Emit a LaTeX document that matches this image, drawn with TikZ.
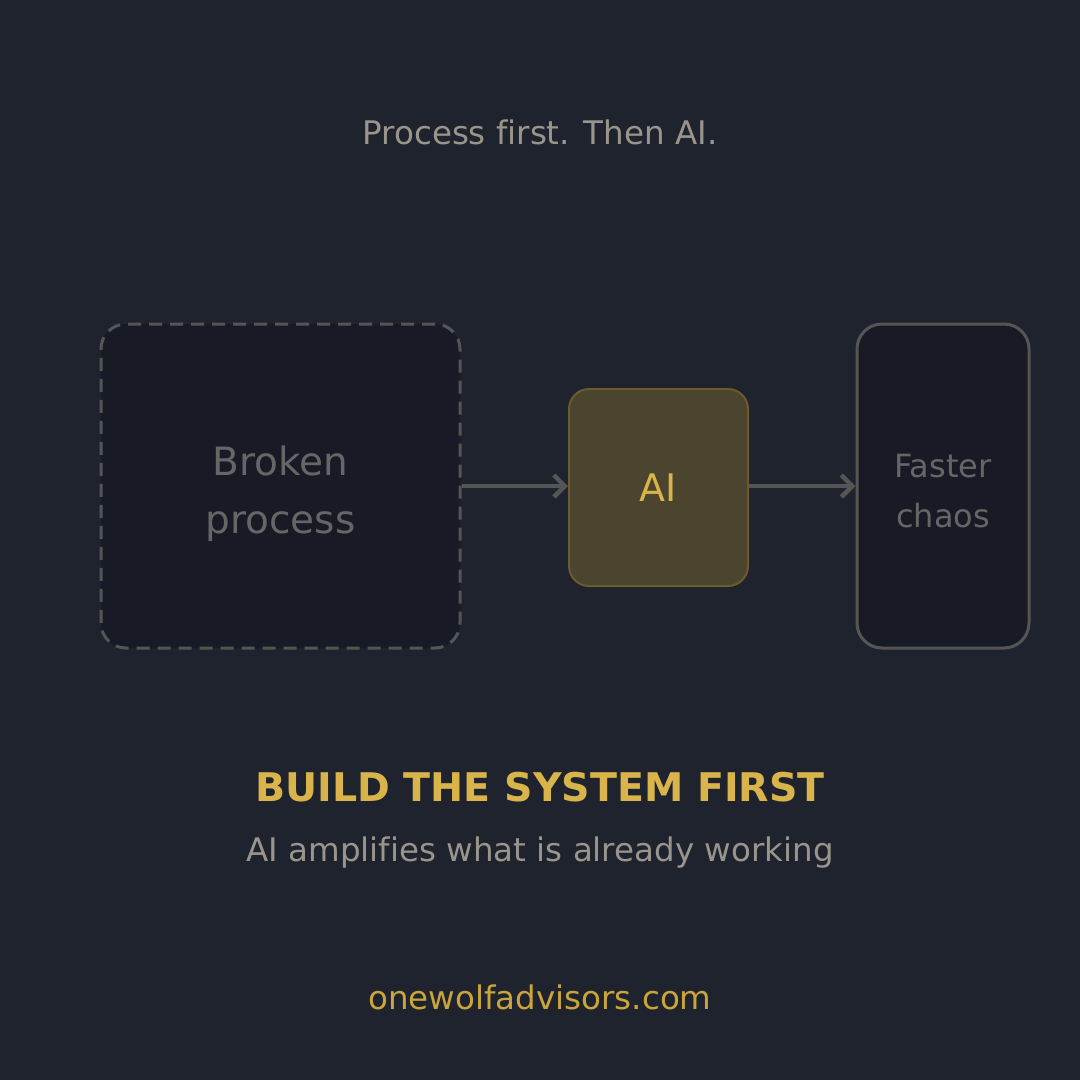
\documentclass[tikz,border=0pt]{standalone}
\usepackage{fontspec}
\setmainfont[Ligatures={NoCommon}]{DejaVu Sans}
\usetikzlibrary{arrows.meta}
\definecolor{bg}{HTML}{1F232E}
\definecolor{boxfill}{HTML}{181B25}
\definecolor{edge}{HTML}{555555}
\definecolor{aifill}{HTML}{4B4530}
\definecolor{aiedge}{HTML}{6B5A30}
\definecolor{gold}{HTML}{D9B44A}
\definecolor{url}{HTML}{C9A53A}
\definecolor{mute}{HTML}{9A958C}
\definecolor{dim}{HTML}{666666}
\tikzset{
  box/.style={draw=edge,fill=boxfill,line width=3pt,rounded corners=25pt,inner sep=0pt},
  lbl/.style={align=center,text=dim,inner sep=0pt},
  aibox/.style={draw=aiedge,fill=aifill,line width=2pt,rounded corners=20pt,text=gold,inner sep=0pt},
  conn/.style={draw=edge,line width=4.5pt,-{Straight Barb[length=11pt,width=22pt,line width=4.5pt]}}
}
\begin{document}
\begin{tikzpicture}[x=1pt,y=-1pt]
\fill[bg] (0,0) rectangle (1080,1080);
\useasboundingbox (0,0) rectangle (1080,1080);
\node[font=\fontsize{32.5}{38}\selectfont,text=mute] (title) at (540,132) {Process first. Then AI.};
\node[box,dashed,dash pattern=on 13pt off 8pt,minimum width=359pt,minimum height=324pt] (broken) at (280.5,486) {};
\node[lbl,font=\fontsize{39}{58}\selectfont] (brokent) at (280.5,494) {Broken\\process};
\node[aibox,minimum width=179pt,minimum height=197pt,font=\fontsize{38}{43}\selectfont] (ai) at (658.5,487.5) {AI};
\node[box,minimum width=172pt,minimum height=324pt] (chaos) at (943,486) {};
\node[lbl,font=\fontsize{32}{50}\selectfont] (chaost) at (943,491) {Faster\\chaos};
\draw[conn] (broken.east) -- (ai.west|-broken.east);
\draw[conn] (ai.east|-chaos.west) -- (chaos.west);
\node[font=\bfseries\fontsize{39.5}{44}\selectfont,text=gold] (head) at (540,787) {BUILD THE SYSTEM FIRST};
\node[font=\fontsize{32.5}{38}\selectfont,text=mute] (sub) at (540,853) {AI amplifies what is already working};
\node[font=\fontsize{32.5}{38}\selectfont,text=url] (site) at (540,997) {onewolfadvisors.com};
\end{tikzpicture}
\end{document}
